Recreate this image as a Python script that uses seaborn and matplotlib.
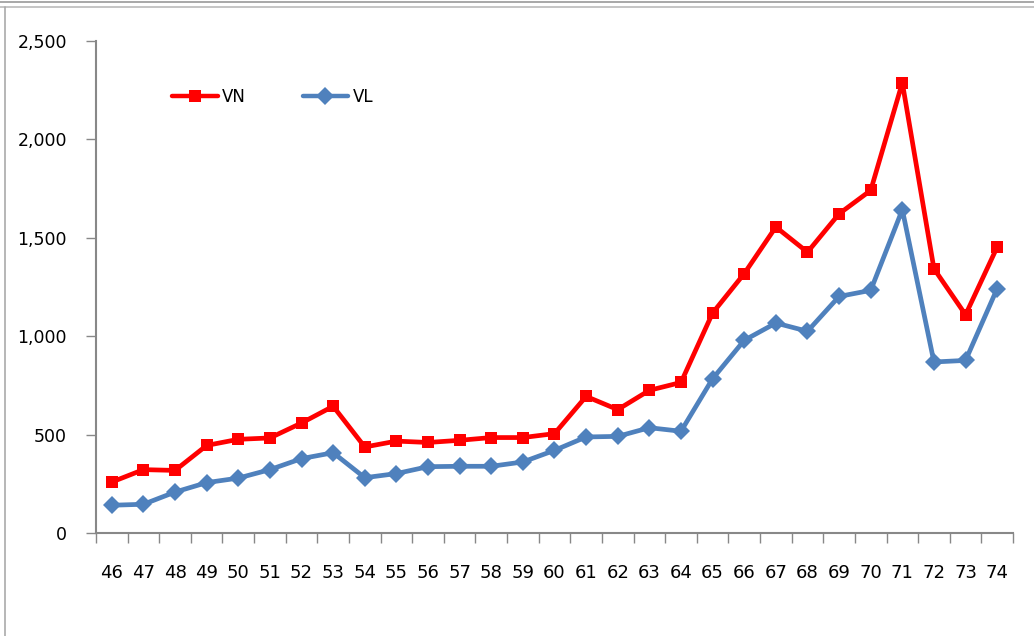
import matplotlib
matplotlib.use('Agg')
import matplotlib.pyplot as plt
from matplotlib.lines import Line2D
import seaborn as sns
import pandas as pd
import numpy as np

# values
years = list(range(46, 75))
vn = [259, 322, 318, 445, 476, 483, 559, 644, 437, 467, 460, 471, 485, 485, 505,
      694, 627, 725, 765, 1118, 1318, 1555, 1427, 1622, 1741, 2288, 1343, 1109, 1453]
vl = [141, 146, 208, 256, 279, 322, 378, 408, 281, 302, 337, 339, 339, 361, 420,
      488, 491, 535, 517, 784, 979, 1067, 1025, 1202, 1233, 1643, 869, 877, 1242]
series_names = ['VN', 'VL']
colors = {'VN': '#FF0000', 'VL': '#4F81BD'}
markers = {'VN': 's', 'VL': 'D'}

df = pd.DataFrame({'pos': list(range(len(years))) * 2,
                   'value': vn + vl,
                   'series': ['VN'] * len(years) + ['VL'] * len(years)})

sns.set_style('white')
plt.rcParams['font.family'] = ['DejaVu Sans']
plt.rcParams['text.color'] = 'black'

fig = plt.figure(figsize=(10.34, 6.36), dpi=100)
ax = fig.add_axes([96 / 1034, 1 - 533 / 636, (1013 - 96) / 1034, (533 - 41) / 636])

sns.lineplot(data=df, x='pos', y='value', hue='series', style='series',
             palette=colors, markers=markers, dashes=False, linewidth=3.4,
             markersize=9, markeredgewidth=0, legend=False, ax=ax)

ax.set_xlim(-0.5, len(years) - 0.5)
ax.set_ylim(0, 2500)
ax.set_yticks(range(0, 2501, 500))
ax.set_yticklabels([f'{v:,}' for v in range(0, 2501, 500)], fontsize=12.5)
ax.set_xticks(range(len(years)))
ax.set_xticklabels([str(y) for y in years], fontsize=13)
ax.set_xticks(np.arange(-0.5, len(years)), minor=True)
ax.tick_params(axis='x', which='major', bottom=False, length=0, pad=22, labelcolor='black')
ax.tick_params(axis='x', which='minor', bottom=True, length=7, width=1,
               color='#888888', direction='out')
ax.tick_params(axis='y', left=True, length=7, width=1, color='#888888',
               direction='out', pad=14, labelcolor='black')
ax.set_xlabel('')
ax.set_ylabel('')
for s in ['top', 'right']:
    ax.spines[s].set_visible(False)
for s in ['left', 'bottom']:
    ax.spines[s].set_color('#888888')
    ax.spines[s].set_linewidth(1.5)

handles = [Line2D([], [], color=colors[n], marker=markers[n], lw=3.2, markersize=9,
                  markeredgewidth=0) for n in series_names]
fig.legend(handles, series_names, loc='center left', bbox_to_anchor=(157 / 1034, 1 - 97 / 636),
           ncol=2, frameon=False, fontsize=12, handlelength=2.75, handletextpad=0.25,
           columnspacing=3.4, labelcolor='black')

# outer frame of the embedded chart
fig.add_artist(Line2D([0, 1], [1 - 2 / 636, 1 - 2 / 636], color='#999999', lw=1.2))
fig.add_artist(Line2D([0, 1], [1 - 7 / 636, 1 - 7 / 636], color='#bbbbbb', lw=1.2))
fig.add_artist(Line2D([5 / 1034, 5 / 1034], [0, 1 - 7 / 636], color='#aaaaaa', lw=1.2))

fig.savefig('out.png', dpi=100)
